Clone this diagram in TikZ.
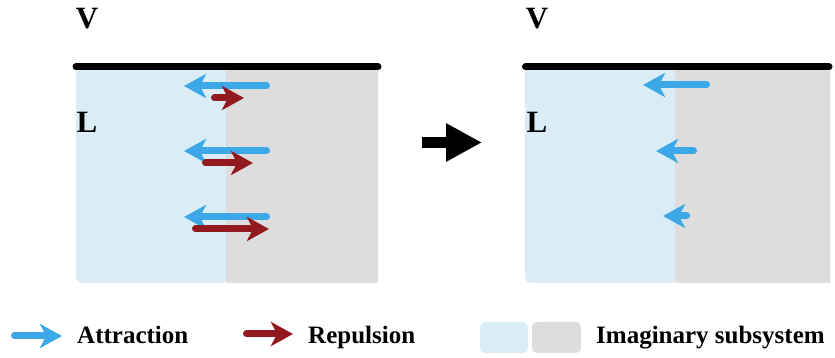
\documentclass[tikz,border=0pt]{standalone}
\usepackage{fontspec}
\setmainfont{Liberation Serif}
\usetikzlibrary{arrows.meta}
\definecolor{attr}{RGB}{61,168,232}
\definecolor{rep}{RGB}{146,26,30}
\definecolor{liq}{RGB}{218,237,246}
\definecolor{imag}{RGB}{221,221,221}
\tikzset{
  attrarrow/.style={draw=attr, line width=7pt, line cap=round, -{Stealth[length=22pt,width=24pt,inset=6pt,fill=attr]}},
  reparrow/.style={draw=rep, line width=7pt, line cap=round, -{Stealth[length=22pt,width=24pt,inset=6pt,fill=rep]}},
  surface/.style={line width=7pt, line cap=round},
  phaselabel/.style={font=\bfseries\fontsize{31}{31}\selectfont, inner sep=0pt},
  legendtext/.style={font=\bfseries\fontsize{25}{25}\selectfont, inner sep=0pt, anchor=base west},
  swatch/.style={rounded corners=5pt},
}
\begin{document}
\begin{tikzpicture}[x=1pt,y=1pt]
\useasboundingbox (0,0) rectangle (835,358);
% ---------- left panel ----------
\fill[liq, rounded corners=6pt] (76,75) rectangle (228,295);
\fill[imag, rounded corners=1pt] (226,75) rectangle (378,295);
\node[phaselabel] (V1) at (87,339) {V};
\node[phaselabel] (L1) at (87,235.5) {L};
\coordinate (a1s) at (266.5,272); \coordinate (a1e) at (184,272);
\coordinate (a2s) at (266.5,207); \coordinate (a2e) at (184,207);
\coordinate (a3s) at (266.5,141); \coordinate (a3e) at (184,141);
\coordinate (r1s) at (214.5,260); \coordinate (r1e) at (244,260);
\coordinate (r2s) at (205.5,195); \coordinate (r2e) at (253,195);
\coordinate (r3s) at (195.5,129); \coordinate (r3e) at (269,129);
\draw[attrarrow] (a1s) -- (a1e);
\draw[attrarrow] (a2s) -- (a2e);
\draw[attrarrow] (a3s) -- (a3e);
\draw[reparrow] (r1s) -- (r1e);
\draw[reparrow] (r2s) -- (r2e);
\draw[reparrow] (r3s) -- (r3e);
\coordinate (s1a) at (76,291); \coordinate (s1b) at (378,291);
\draw[surface] (s1a) -- (s1b);
% ---------- transition arrow ----------
\coordinate (ta) at (422,215.5); \coordinate (tb) at (482,215.5);
\draw[line width=11pt, -{Triangle[length=36pt,width=36pt]}] (ta) -- (tb);
% ---------- right panel ----------
\fill[liq, rounded corners=6pt] (525,75) rectangle (677,295);
\fill[imag, rounded corners=1pt] (675,75) rectangle (830,295);
\node[phaselabel] (V2) at (537,339) {V};
\node[phaselabel] (L2) at (537,235.5) {L};
\coordinate (b1s) at (706.5,273); \coordinate (b1e) at (643,273);
\coordinate (b2s) at (693.5,207); \coordinate (b2e) at (656,207);
\coordinate (b3s) at (686.5,142); \coordinate (b3e) at (663,142);
\draw[attrarrow] (b1s) -- (b1e);
\draw[attrarrow] (b2s) -- (b2e);
\draw[attrarrow] (b3s) -- (b3e);
\coordinate (s2a) at (525.5,291); \coordinate (s2b) at (829,291);
\draw[surface] (s2a) -- (s2b);
% ---------- legend ----------
\coordinate (la1) at (14.5,22); \coordinate (la2) at (62,22);
\draw[attrarrow] (la1) -- (la2);
\node[legendtext] (lt1) at (77,14) {Attraction};
\coordinate (lr1) at (246.5,24); \coordinate (lr2) at (293,24);
\draw[reparrow] (lr1) -- (lr2);
\node[legendtext] (lt2) at (308,14) {Repulsion};
\fill[liq, swatch] (480,5) rectangle (528,36);
\fill[imag, swatch] (532,5) rectangle (581,36);
\node[legendtext] (lt3) at (596,14) {Imaginary subsystem};
\end{tikzpicture}
\end{document}
